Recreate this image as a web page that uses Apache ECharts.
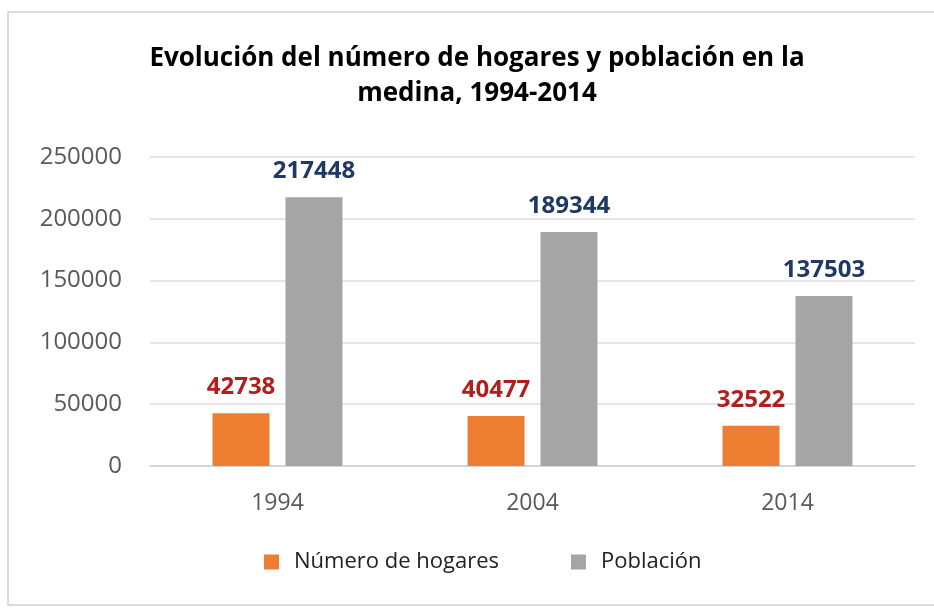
<!DOCTYPE html>
<html>
<head>
<meta charset="utf-8">
<script src="https://cdn.jsdelivr.net/npm/echarts@6/dist/echarts.min.js"></script>
<style>
  html, body { margin: 0; padding: 0; background: #fff; }
  #box1 { width: 934px; height: 614px; }
</style>
</head>
<body>
<div id="box1"></div>
<script>
// datos
let years = ['1994', '2004', '2014'];
let hogares = [42738, 40477, 32522];
let poblacion = [217448, 189344, 137503];
let yTicks = [0, 50000, 100000, 150000, 200000, 250000];

let font = '"Open Sans", "Noto Sans", sans-serif';

let box1 = document.querySelector('#box1');
let myChart1 = echarts.init(box1);
let option1 = {
    backgroundColor: '#fff',
    textStyle: { fontFamily: font },
    title: {
        text: 'Evolución del número de hogares y población en la\nmedina, 1994-2014',
        left: 477,
        top: 41,
        padding: 0,
        textAlign: 'center',
        textStyle: {
            fontFamily: font,
            fontSize: 26,
            fontWeight: 'bold',
            color: '#000',
            lineHeight: 35
        }
    },
    graphic: [
        {
            type: 'rect',
            silent: true,
            shape: { x: 8, y: 12, width: 940, height: 593 },
            style: { fill: 'none', stroke: '#d0d0d0', lineWidth: 1.5 }
        }
    ],
    legend: {
        top: 551,
        left: 264,
        padding: 0,
        itemWidth: 15,
        itemHeight: 15,
        itemGap: 72,
        icon: 'rect',
        textStyle: {
            fontFamily: font,
            fontSize: 22,
            color: '#222',
            padding: [0, 0, 0, 10]
        },
        data: ['Número de hogares', 'Población']
    },
    grid: {
        left: 150,
        right: 19,
        top: 157,
        bottom: 148
    },
    xAxis: {
        type: 'category',
        data: years,
        axisLine: { lineStyle: { color: '#d0d0d0', width: 1.5 } },
        axisTick: { show: false },
        axisLabel: {
            fontFamily: font,
            fontSize: 23,
            color: '#595959',
            margin: 26
        }
    },
    yAxis: {
        type: 'value',
        min: yTicks[0],
        max: yTicks[yTicks.length - 1],
        interval: 50000,
        axisLine: { show: false },
        axisTick: { show: false },
        splitLine: { lineStyle: { color: '#dcdcdc', width: 1.5 } },
        axisLabel: {
            fontFamily: font,
            fontSize: 24,
            color: '#595959',
            margin: 28,
            formatter: function (v) { return String(v); }
        }
    },
    series: [
        {
            name: 'Número de hogares',
            type: 'bar',
            data: hogares,
            barWidth: 57,
            barGap: '28%',
            itemStyle: { color: '#ED7D31' },
            label: {
                show: true,
                position: 'top',
                distance: 14,
                fontFamily: font,
                fontSize: 24,
                fontWeight: 'bold',
                color: '#B01E1E'
            }
        },
        {
            name: 'Población',
            type: 'bar',
            data: poblacion,
            barWidth: 57,
            itemStyle: { color: '#A5A5A5' },
            label: {
                show: true,
                position: 'top',
                distance: 14,
                fontFamily: font,
                fontSize: 24,
                fontWeight: 'bold',
                color: '#1F3864'
            }
        }
    ]
};
myChart1.setOption(option1);
</script>
</body>
</html>
